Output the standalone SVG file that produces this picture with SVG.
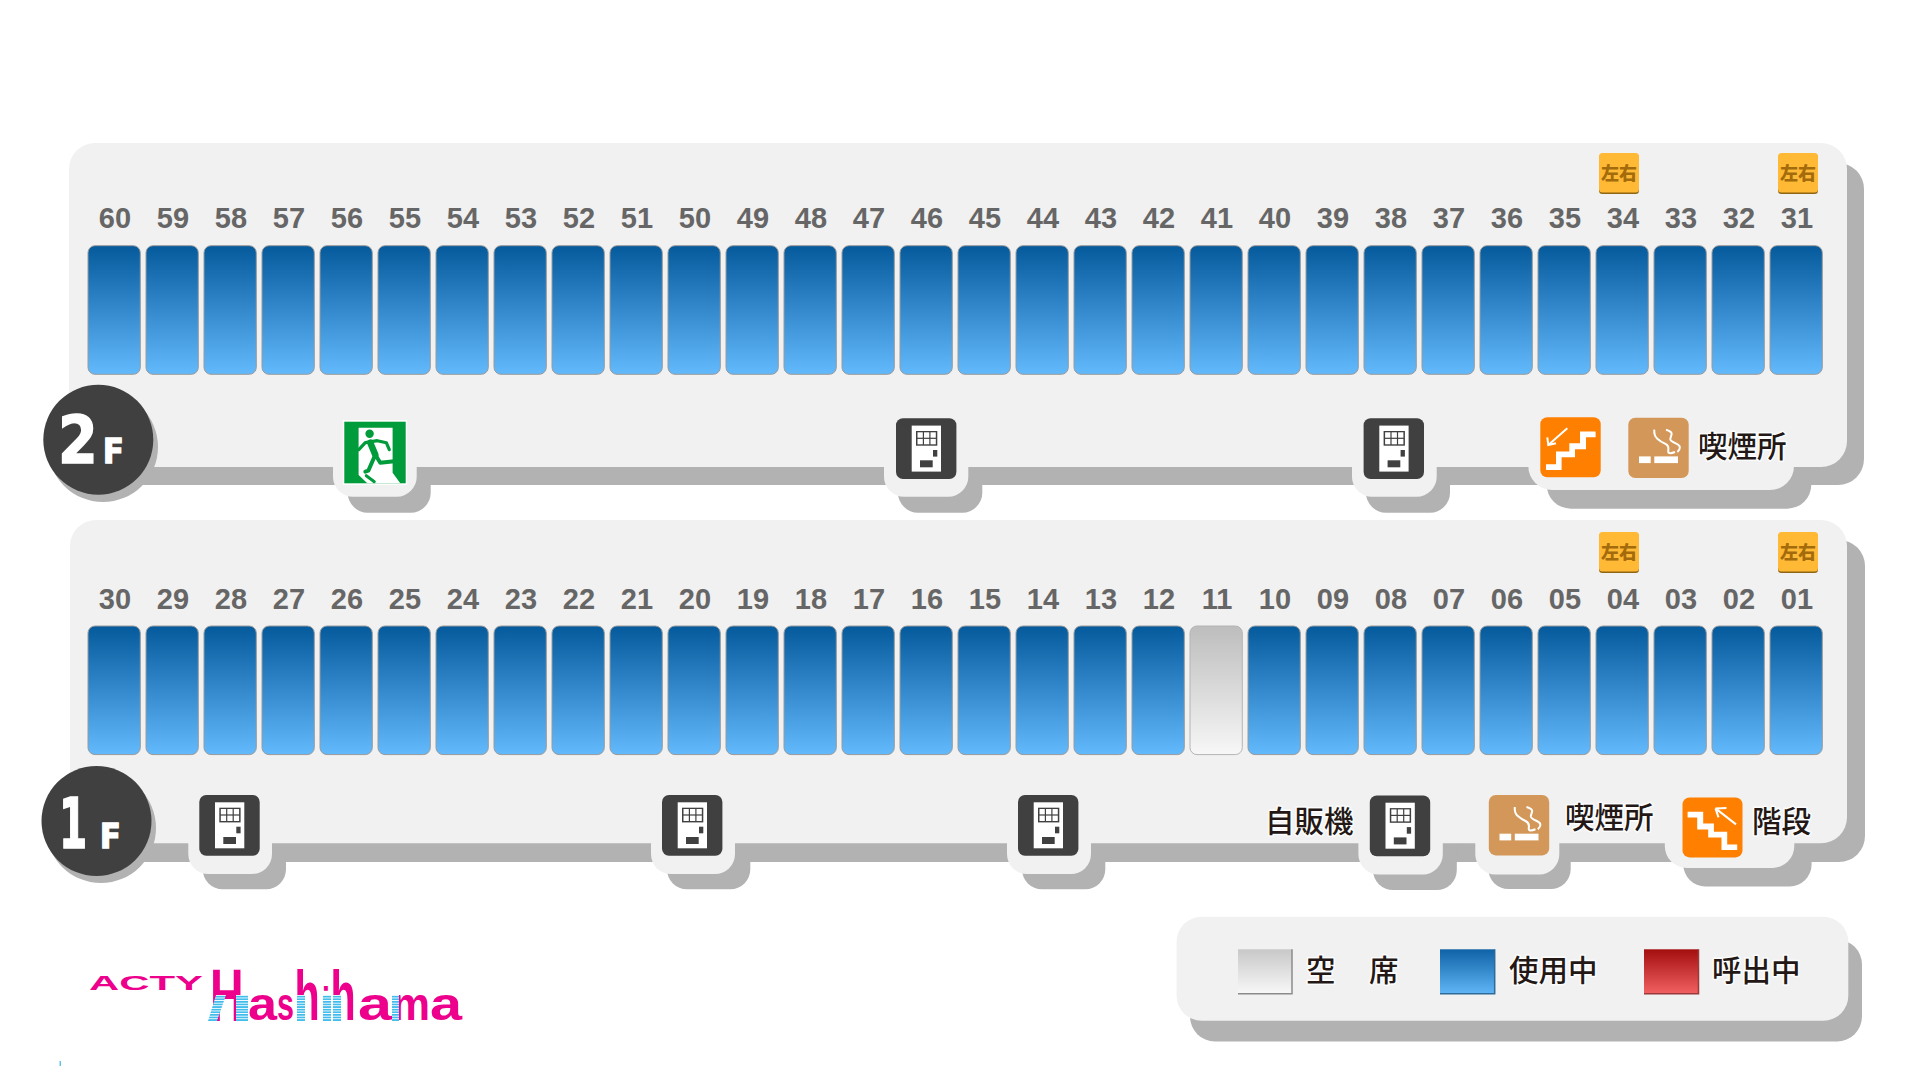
<svg xmlns="http://www.w3.org/2000/svg" width="1911" height="1073" viewBox="0 0 1911 1073">
<style>
.p{fill:#f1f1f1}.sh{fill:#b2b2b2}
.n{font:bold 29px "Liberation Sans",Arial,sans-serif;fill:#666;text-anchor:middle}
.u{fill:url(#blue);stroke:#9a9a9a;stroke-width:1}
.e{fill:url(#gray);stroke:#b4b4b4;stroke-width:1}
.j{font:500 29.5px "Noto Sans CJK JP",sans-serif;fill:#231815;stroke:#fff;stroke-width:3;stroke-opacity:.85;paint-order:stroke;stroke-linejoin:round}
.t{font:900 18px "Noto Sans CJK JP",sans-serif;fill:#a36b0c;text-anchor:middle}
.ft{font-family:"DejaVu Sans",sans-serif;font-weight:bold;fill:#fff;stroke:#fff;stroke-width:1.500}
.lg{font-family:"Liberation Sans",Arial,sans-serif;font-weight:bold;fill:#ec008c}
.sb{fill:url(#stripe)}
.wl{fill:none;stroke:#fff;stroke-width:2}
.gl{fill:none;stroke:#009b3a;stroke-linecap:round;stroke-linejoin:round}
.edge{fill:none;stroke-width:1.500}
</style>
<defs>
<linearGradient id="blue" x1="0" y1="0" x2="0" y2="1"><stop offset="0" stop-color="#055a9c"/><stop offset="1" stop-color="#62b9fc"/></linearGradient>
<linearGradient id="gray" x1="0" y1="0" x2="0" y2="1"><stop offset="0" stop-color="#bdbdbd"/><stop offset="1" stop-color="#f7f7f7"/></linearGradient>
<linearGradient id="swE" x1="0" y1="0" x2="0" y2="1"><stop offset="0" stop-color="#c8c8c8"/><stop offset="1" stop-color="#f8f8f8"/></linearGradient>
<linearGradient id="swB" x1="0" y1="0" x2="0" y2="1"><stop offset="0" stop-color="#0f62a6"/><stop offset="1" stop-color="#5fb6f6"/></linearGradient>
<linearGradient id="swR" x1="0" y1="0" x2="0" y2="1"><stop offset="0" stop-color="#a30f0f"/><stop offset="1" stop-color="#f26062"/></linearGradient>
<pattern id="stripe" width="6" height="2.6" patternUnits="userSpaceOnUse"><rect width="6" height="2.6" fill="#fff"/><rect width="6" height="1.7" fill="#3fbcec"/></pattern>
<rect id="s" width="52.3" height="128.6" rx="7"/>
<g id="tag"><rect y="1.2" width="40" height="39.8" rx="3.5" fill="#8f6512"/><rect width="40" height="39.6" rx="3.5" fill="#ffb935"/><text class="t" x="20" y="27">左右</text></g>
<g id="vend"><rect width="60.4" height="60.8" rx="7" fill="#404040"/><rect x="15.7" y="7.3" width="29.3" height="46" fill="#fff"/><rect x="20" y="12.7" width="21.3" height="14.7" fill="#404040"/><g fill="#fff"><rect x="21.5" y="14" width="5.3" height="5.4"/><rect x="28" y="14" width="5.3" height="5.4"/><rect x="34.5" y="14" width="5.3" height="5.4"/><rect x="21.5" y="20.6" width="5.3" height="5.4"/><rect x="28" y="20.6" width="5.3" height="5.4"/><rect x="34.5" y="20.6" width="5.3" height="5.4"/></g><rect x="37" y="31.7" width="4.3" height="6.6" fill="#404040"/><rect x="24" y="42" width="12.7" height="7" fill="#404040"/></g>
<g id="smoke"><rect width="60.4" height="60.4" rx="7" fill="#d39859"/><rect x="10.7" y="38.7" width="11.7" height="6.7" fill="#fff"/><rect x="26" y="38.7" width="23.7" height="6.7" fill="#fff"/><path class="wl" d="M26 12Q25.500 18 29 21T36.700 26T40 32.700T46.700 34.300M37.700 12Q44 14 43.300 16.500T42 21T48 26T49 34.300"/></g>
<g id="up"><rect width="60.4" height="60" rx="7" fill="#ff8000"/><polygon fill="#fff" points="5.700,52.700 5.700,47 15.700,47 15.700,34.300 29,34.300 29,26 39.700,26 39.700,14.300 55.300,14.300 55.300,20 45.700,20 45.700,32 34.700,32 34.700,40 21.300,40 21.300,52.700"/><path class="wl" d="M27 11L8 27.700M7 20L8 27.700L15.700 26"/></g>
<g id="down"><rect width="60" height="60" rx="7" fill="#ff8000"/><polygon fill="#fff" points="54.700,52.700 54.700,47 44.700,47 44.700,34.300 31.400,34.300 31.400,26 20.700,26 20.700,14.300 5.100,14.300 5.100,20 14.700,20 14.700,32 25.700,32 25.700,40 39,40 39,52.700"/><path class="wl" d="M53.500 27L33 11M33 11L44 10.500M33 11L36 20"/></g>
</defs>
<rect width="1911" height="1073" fill="#fff"/>

<g id="panel-2f-shadow" class="sh">
<rect x="86" y="163" width="1778" height="322" rx="26"/>
<rect x="347.700" y="440" width="83" height="72.700" rx="20"/>
<rect x="898" y="440" width="84.300" height="72.700" rx="20"/>
<rect x="1366" y="440" width="84" height="72.700" rx="20"/>
<rect x="1546.700" y="440" width="264.600" height="68.700" rx="24"/>
</g>
<g id="panel-1f-shadow" class="sh">
<rect x="86" y="540" width="1779" height="322" rx="26"/>
<rect x="202.700" y="820" width="83.300" height="69.300" rx="20"/>
<rect x="667" y="820" width="83.300" height="69.300" rx="20"/>
<rect x="1022" y="820" width="83.300" height="69.300" rx="20"/>
<rect x="1373" y="820" width="83.800" height="70" rx="20"/>
<rect x="1488.400" y="820" width="82.300" height="69" rx="20"/>
<rect x="1683.300" y="820" width="128.300" height="66.400" rx="22"/>
</g>
<g id="legend-shadow" class="sh"><rect x="1190" y="939.500" width="672" height="102" rx="25"/></g>

<g id="panel-2f" class="p">
<rect x="69" y="143" width="1778" height="324" rx="26"/>
<rect x="333" y="430" width="83.700" height="66.700" rx="20"/>
<rect x="884" y="430" width="84.300" height="66.700" rx="20"/>
<rect x="1352" y="430" width="84.700" height="66.700" rx="20"/>
<rect x="1528.300" y="430" width="265.700" height="60" rx="24"/>
</g>
<g id="panel-1f" class="p">
<rect x="70" y="520" width="1777" height="323.300" rx="26"/>
<rect x="188.300" y="810" width="83.700" height="64" rx="20"/>
<rect x="651" y="810" width="84" height="64" rx="20"/>
<rect x="1007" y="810" width="84" height="64" rx="20"/>
<rect x="1358.400" y="810" width="84.400" height="64.400" rx="20"/>
<rect x="1475.300" y="810" width="84" height="64.400" rx="20"/>
<rect x="1664.800" y="810" width="129.500" height="58" rx="22"/>
</g>

<g id="seat-60" transform="translate(88)"><use href="#s" class="u" y="245.700"/><text class="n" x="27" y="228">60</text></g>
<g id="seat-59" transform="translate(146)"><use href="#s" class="u" y="245.700"/><text class="n" x="27" y="228">59</text></g>
<g id="seat-58" transform="translate(204)"><use href="#s" class="u" y="245.700"/><text class="n" x="27" y="228">58</text></g>
<g id="seat-57" transform="translate(262)"><use href="#s" class="u" y="245.700"/><text class="n" x="27" y="228">57</text></g>
<g id="seat-56" transform="translate(320)"><use href="#s" class="u" y="245.700"/><text class="n" x="27" y="228">56</text></g>
<g id="seat-55" transform="translate(378)"><use href="#s" class="u" y="245.700"/><text class="n" x="27" y="228">55</text></g>
<g id="seat-54" transform="translate(436)"><use href="#s" class="u" y="245.700"/><text class="n" x="27" y="228">54</text></g>
<g id="seat-53" transform="translate(494)"><use href="#s" class="u" y="245.700"/><text class="n" x="27" y="228">53</text></g>
<g id="seat-52" transform="translate(552)"><use href="#s" class="u" y="245.700"/><text class="n" x="27" y="228">52</text></g>
<g id="seat-51" transform="translate(610)"><use href="#s" class="u" y="245.700"/><text class="n" x="27" y="228">51</text></g>
<g id="seat-50" transform="translate(668)"><use href="#s" class="u" y="245.700"/><text class="n" x="27" y="228">50</text></g>
<g id="seat-49" transform="translate(726)"><use href="#s" class="u" y="245.700"/><text class="n" x="27" y="228">49</text></g>
<g id="seat-48" transform="translate(784)"><use href="#s" class="u" y="245.700"/><text class="n" x="27" y="228">48</text></g>
<g id="seat-47" transform="translate(842)"><use href="#s" class="u" y="245.700"/><text class="n" x="27" y="228">47</text></g>
<g id="seat-46" transform="translate(900)"><use href="#s" class="u" y="245.700"/><text class="n" x="27" y="228">46</text></g>
<g id="seat-45" transform="translate(958)"><use href="#s" class="u" y="245.700"/><text class="n" x="27" y="228">45</text></g>
<g id="seat-44" transform="translate(1016)"><use href="#s" class="u" y="245.700"/><text class="n" x="27" y="228">44</text></g>
<g id="seat-43" transform="translate(1074)"><use href="#s" class="u" y="245.700"/><text class="n" x="27" y="228">43</text></g>
<g id="seat-42" transform="translate(1132)"><use href="#s" class="u" y="245.700"/><text class="n" x="27" y="228">42</text></g>
<g id="seat-41" transform="translate(1190)"><use href="#s" class="u" y="245.700"/><text class="n" x="27" y="228">41</text></g>
<g id="seat-40" transform="translate(1248)"><use href="#s" class="u" y="245.700"/><text class="n" x="27" y="228">40</text></g>
<g id="seat-39" transform="translate(1306)"><use href="#s" class="u" y="245.700"/><text class="n" x="27" y="228">39</text></g>
<g id="seat-38" transform="translate(1364)"><use href="#s" class="u" y="245.700"/><text class="n" x="27" y="228">38</text></g>
<g id="seat-37" transform="translate(1422)"><use href="#s" class="u" y="245.700"/><text class="n" x="27" y="228">37</text></g>
<g id="seat-36" transform="translate(1480)"><use href="#s" class="u" y="245.700"/><text class="n" x="27" y="228">36</text></g>
<g id="seat-35" transform="translate(1538)"><use href="#s" class="u" y="245.700"/><text class="n" x="27" y="228">35</text></g>
<g id="seat-34" transform="translate(1596)"><use href="#s" class="u" y="245.700"/><text class="n" x="27" y="228">34</text></g>
<g id="seat-33" transform="translate(1654)"><use href="#s" class="u" y="245.700"/><text class="n" x="27" y="228">33</text></g>
<g id="seat-32" transform="translate(1712)"><use href="#s" class="u" y="245.700"/><text class="n" x="27" y="228">32</text></g>
<g id="seat-31" transform="translate(1770)"><use href="#s" class="u" y="245.700"/><text class="n" x="27" y="228">31</text></g>

<g id="seat-30" transform="translate(88)"><use href="#s" class="u" y="626"/><text class="n" x="27" y="608.500">30</text></g>
<g id="seat-29" transform="translate(146)"><use href="#s" class="u" y="626"/><text class="n" x="27" y="608.500">29</text></g>
<g id="seat-28" transform="translate(204)"><use href="#s" class="u" y="626"/><text class="n" x="27" y="608.500">28</text></g>
<g id="seat-27" transform="translate(262)"><use href="#s" class="u" y="626"/><text class="n" x="27" y="608.500">27</text></g>
<g id="seat-26" transform="translate(320)"><use href="#s" class="u" y="626"/><text class="n" x="27" y="608.500">26</text></g>
<g id="seat-25" transform="translate(378)"><use href="#s" class="u" y="626"/><text class="n" x="27" y="608.500">25</text></g>
<g id="seat-24" transform="translate(436)"><use href="#s" class="u" y="626"/><text class="n" x="27" y="608.500">24</text></g>
<g id="seat-23" transform="translate(494)"><use href="#s" class="u" y="626"/><text class="n" x="27" y="608.500">23</text></g>
<g id="seat-22" transform="translate(552)"><use href="#s" class="u" y="626"/><text class="n" x="27" y="608.500">22</text></g>
<g id="seat-21" transform="translate(610)"><use href="#s" class="u" y="626"/><text class="n" x="27" y="608.500">21</text></g>
<g id="seat-20" transform="translate(668)"><use href="#s" class="u" y="626"/><text class="n" x="27" y="608.500">20</text></g>
<g id="seat-19" transform="translate(726)"><use href="#s" class="u" y="626"/><text class="n" x="27" y="608.500">19</text></g>
<g id="seat-18" transform="translate(784)"><use href="#s" class="u" y="626"/><text class="n" x="27" y="608.500">18</text></g>
<g id="seat-17" transform="translate(842)"><use href="#s" class="u" y="626"/><text class="n" x="27" y="608.500">17</text></g>
<g id="seat-16" transform="translate(900)"><use href="#s" class="u" y="626"/><text class="n" x="27" y="608.500">16</text></g>
<g id="seat-15" transform="translate(958)"><use href="#s" class="u" y="626"/><text class="n" x="27" y="608.500">15</text></g>
<g id="seat-14" transform="translate(1016)"><use href="#s" class="u" y="626"/><text class="n" x="27" y="608.500">14</text></g>
<g id="seat-13" transform="translate(1074)"><use href="#s" class="u" y="626"/><text class="n" x="27" y="608.500">13</text></g>
<g id="seat-12" transform="translate(1132)"><use href="#s" class="u" y="626"/><text class="n" x="27" y="608.500">12</text></g>
<g id="seat-11" transform="translate(1190)"><use href="#s" class="e" y="626"/><text class="n" x="27" y="608.500">11</text></g>
<g id="seat-10" transform="translate(1248)"><use href="#s" class="u" y="626"/><text class="n" x="27" y="608.500">10</text></g>
<g id="seat-09" transform="translate(1306)"><use href="#s" class="u" y="626"/><text class="n" x="27" y="608.500">09</text></g>
<g id="seat-08" transform="translate(1364)"><use href="#s" class="u" y="626"/><text class="n" x="27" y="608.500">08</text></g>
<g id="seat-07" transform="translate(1422)"><use href="#s" class="u" y="626"/><text class="n" x="27" y="608.500">07</text></g>
<g id="seat-06" transform="translate(1480)"><use href="#s" class="u" y="626"/><text class="n" x="27" y="608.500">06</text></g>
<g id="seat-05" transform="translate(1538)"><use href="#s" class="u" y="626"/><text class="n" x="27" y="608.500">05</text></g>
<g id="seat-04" transform="translate(1596)"><use href="#s" class="u" y="626"/><text class="n" x="27" y="608.500">04</text></g>
<g id="seat-03" transform="translate(1654)"><use href="#s" class="u" y="626"/><text class="n" x="27" y="608.500">03</text></g>
<g id="seat-02" transform="translate(1712)"><use href="#s" class="u" y="626"/><text class="n" x="27" y="608.500">02</text></g>
<g id="seat-01" transform="translate(1770)"><use href="#s" class="u" y="626"/><text class="n" x="27" y="608.500">01</text></g>

<g id="tag-34"><use href="#tag" x="1599" y="153"/></g>
<g id="tag-31"><use href="#tag" x="1778" y="153"/></g>
<g id="tag-04"><use href="#tag" x="1599" y="532"/></g>
<g id="tag-01"><use href="#tag" x="1778" y="532"/></g>

<g id="floor-2f">
<circle cx="103" cy="447" r="55" class="sh"/>
<circle cx="98.300" cy="439.700" r="55" fill="#404040"/>
<text class="ft" transform="translate(58 463) scale(.88 1)" font-size="65">2</text>
<text class="ft" transform="translate(103 463) scale(.92 1)" font-size="33">F</text>
</g>
<g id="floor-1f">
<circle cx="101" cy="828" r="55" class="sh"/>
<circle cx="96.500" cy="821" r="55" fill="#404040"/>
<text class="ft" transform="translate(59 848) scale(.58 1)" font-size="70">1</text>
<text class="ft" transform="translate(100 848) scale(.92 1)" font-size="33">F</text>
</g>

<g id="exit" transform="translate(344.300 421.700)">
<rect x="-1.500" y="-1.500" width="64.400" height="64.600" fill="#fff"/>
<rect width="61.400" height="61.600" fill="#009b3a"/>
<polygon fill="#fff" points="14.300,6 48.300,6 48.300,51 56,61.600 23,61.600 14.300,53.300"/>
<circle cx="25.300" cy="12" r="4.200" fill="#009b3a"/>
<path class="gl" stroke-width="6.500" d="M26 21L31 33"/>
<path class="gl" stroke-width="3.200" d="M14.500 28L21 21L33 19L42 21L45 28"/>
<path class="gl" stroke-width="4" d="M31 33L24 49L21 50M31 33L36 41L50 39.500"/>
<path class="gl" stroke-width="3" d="M50 39.500L54 44M22 54L30 60"/>
</g>
<g id="vending-2f-1"><use href="#vend" x="896" y="418.300"/></g>
<g id="vending-2f-2"><use href="#vend" x="1363.600" y="418.300"/></g>
<g id="stairs-2f"><use href="#up" x="1540.300" y="417.300"/></g>
<g id="smoking-2f"><use href="#smoke" x="1628.300" y="417.700"/><text class="j" x="1698" y="457">喫煙所</text></g>

<g id="vending-1f-1"><use href="#vend" x="199.300" y="795"/></g>
<g id="vending-1f-2"><use href="#vend" x="662" y="795"/></g>
<g id="vending-1f-3"><use href="#vend" x="1018" y="795"/></g>
<g id="vending-1f-4"><use href="#vend" x="1369.800" y="795.400"/><text class="j" x="1265" y="831.500">自販機</text></g>
<g id="smoking-1f"><use href="#smoke" x="1488.800" y="795"/><text class="j" x="1565" y="827.500">喫煙所</text></g>
<g id="stairs-1f"><use href="#down" x="1682.500" y="797.400"/><text class="j" x="1752" y="831.500">階段</text></g>

<g id="legend">
<rect class="p" x="1176.600" y="916.800" width="671.700" height="103.900" rx="25"/>
<g id="legend-empty"><rect x="1238" y="949.300" width="54" height="44.500" fill="url(#swE)"/><path class="edge" stroke="#8c8c8c" d="M1292 949.300V993.800H1238"/><text class="j" x="1306" y="980.500">空</text><text class="j" x="1369" y="980.500">席</text></g>
<g id="legend-used"><rect x="1440" y="949.300" width="54.700" height="44.500" fill="url(#swB)"/><path class="edge" stroke="#2f6a99" d="M1494.700 949.300V993.800H1440"/><text class="j" x="1509" y="980.500">使用中</text></g>
<g id="legend-call"><rect x="1644" y="949.300" width="54.500" height="44.500" fill="url(#swR)"/><path class="edge" stroke="#9a3a3a" d="M1698.500 949.300V993.800H1644"/><text class="j" x="1712" y="980.500">呼出中</text></g>
</g>

<g id="logo">
<text class="lg" x="89" y="990" font-size="19.500" textLength="114" lengthAdjust="spacingAndGlyphs">ACTY</text>
<text class="lg" transform="translate(210 1021) scale(.62 1)" font-size="75">H</text>
<text class="lg" x="248" y="1020" font-size="47" textLength="29" lengthAdjust="spacingAndGlyphs">a</text>
<text class="lg" transform="translate(277 1020) scale(.65 1)" font-size="47">s</text>
<text class="lg" transform="translate(294.500 1020) scale(.58 1)" font-size="71">h</text>
<text class="lg" transform="translate(322 1020) scale(.6 1)" font-size="47">i</text>
<text class="lg" transform="translate(330.500 1020) scale(.58 1)" font-size="71">h</text>
<text class="lg" x="358" y="1020" font-size="47" textLength="34" lengthAdjust="spacingAndGlyphs">a</text>
<text class="lg" x="392" y="1020" font-size="47" textLength="38" lengthAdjust="spacingAndGlyphs">m</text>
<text class="lg" x="430" y="1020" font-size="47" textLength="32" lengthAdjust="spacingAndGlyphs">a</text>
<polygon class="sb" points="216,995 226,995 217,1021 208,1021"/>
<rect class="sb" x="236" y="995" width="12" height="26"/>
<rect class="sb" x="297" y="995" width="8" height="26"/>
<rect class="sb" x="323" y="995" width="8" height="26"/>
<rect class="sb" x="333" y="995" width="8" height="26"/>
<rect class="sb" x="392" y="995" width="7" height="26"/>
</g>
<rect id="tick" x="59.700" y="1061" width="1" height="5" fill="#1aa7e0"/>
</svg>
